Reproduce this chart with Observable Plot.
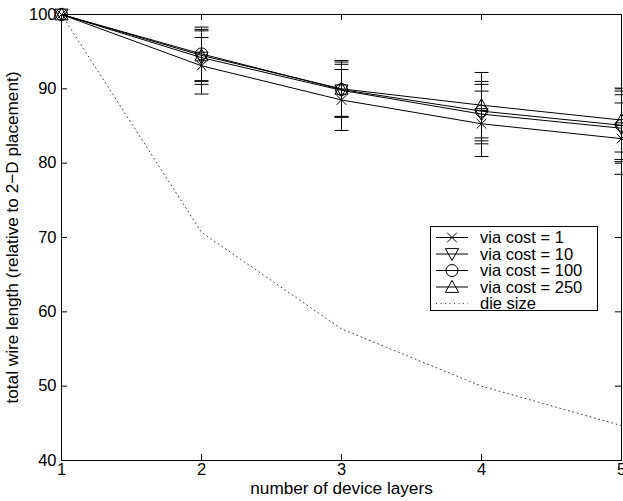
<!DOCTYPE html>
<html>
<head>
<meta charset="utf-8">
<script src="https://cdn.jsdelivr.net/npm/d3@7"></script>
<script src="https://cdn.jsdelivr.net/npm/@observablehq/plot@0.6"></script>
<style>
  body { margin: 0; background: #fff; }
  #chart { position: relative; width: 623px; height: 501px; font-family: "Liberation Sans", Arial, Helvetica, sans-serif; }
  #legend { position: absolute; left: 430px; top: 226px; width: 168px; height: 85px; border: 1px solid #000; background: #fff; box-sizing: border-box; }
  #legend svg { display: block; overflow: visible; }
</style>
</head>
<body>
<div id="chart"></div>
<script>
// Number of device layers on the x axis
const layers = [1, 2, 3, 4, 5];
const seriesNames = ["via cost = 1", "via cost = 10", "via cost = 100", "via cost = 250"];

// Mean total wire length per via cost (percent of 2-D placement)
const wireCost1   = [100, 93.1, 88.5, 85.3, 83.3];
const wireCost10  = [100, 94.2, 89.8, 86.6, 84.7];
const wireCost100 = [100, 94.7, 89.9, 87.0, 85.1];
const wireCost250 = [100, 94.5, 90.0, 87.8, 85.8];

// Half-width of the error bar at each layer count
const errCost1   = [0, 3.8, 4.1, 4.4, 4.8];
const errCost10  = [0, 3.6, 3.5, 4.0, 4.5];
const errCost100 = [0, 3.6, 3.7, 4.0, 4.6];
const errCost250 = [0, 3.5, 3.8, 4.4, 4.3];

// Die size relative to 2-D
const dieSize = [100, 70.7, 57.7, 50.0, 44.7];

const xTicks = [1, 2, 3, 4, 5];
const yTicks = [40, 50, 60, 70, 80, 90, 100];

const FONT = "Liberation Sans, Arial, Helvetica, sans-serif";
const FS = 16.5;
const FS_TITLE = 17.2;

// Marker shapes
const rad = (size) => Math.sqrt(size / Math.PI);
const symCross = { draw(c, size) { const r = rad(size) * 0.8; c.moveTo(-r, -r); c.lineTo(r, r); c.moveTo(-r, r); c.lineTo(r, -r); } };
const symCircle = { draw(c, size) { const r = rad(size); c.moveTo(r, 0); c.arc(0, 0, r, 0, 2 * Math.PI); } };
const symTriUp = { draw(c, size) { const r = rad(size); c.moveTo(0, -r * 1.1); c.lineTo(r * 1.1, r * 0.9); c.lineTo(-r * 1.1, r * 0.9); c.closePath(); } };
const symTriDown = { draw(c, size) { const r = rad(size); c.moveTo(0, r * 1.1); c.lineTo(r * 1.1, -r * 0.9); c.lineTo(-r * 1.1, -r * 0.9); c.closePath(); } };
const symCap = { draw(c, size) { const r = rad(size); c.moveTo(-r, 0); c.lineTo(r, 0); } };

const seriesValues = [wireCost1, wireCost10, wireCost100, wireCost250];
const seriesErrors = [errCost1, errCost10, errCost100, errCost250];
const seriesSymbols = [symCross, symTriDown, symCircle, symTriUp];

const rows = seriesNames.flatMap((name, s) =>
  layers.map((layer, i) => ({
    series: name,
    layer,
    value: seriesValues[s][i],
    lo: seriesValues[s][i] - seriesErrors[s][i],
    hi: seriesValues[s][i] + seriesErrors[s][i],
    err: seriesErrors[s][i]
  }))
);
const errRows = rows.filter(d => d.err > 0);
const dieRows = layers.map((layer, i) => ({ layer, value: dieSize[i] }));

const W = 623, H = 501;
const mL = 61, mR = 2, mT = 14, mB = 41;
const frameW = W - mL - mR, frameH = H - mT - mB;
const tickLen = 6;

const marks = [
  Plot.frame({ stroke: "#000", strokeWidth: 1 }),
  // inward ticks on all four sides
  Plot.tickX(xTicks, { x: d => d, insetTop: frameH - tickLen, stroke: "#000" }),
  Plot.tickX(xTicks, { x: d => d, insetBottom: frameH - tickLen, stroke: "#000" }),
  Plot.tickY(yTicks, { y: d => d, insetRight: frameW - tickLen, stroke: "#000" }),
  Plot.tickY(yTicks, { y: d => d, insetLeft: frameW - tickLen, stroke: "#000" }),
  Plot.axisX(xTicks, { tickSize: 0, tickPadding: 3, label: null, fontSize: FS, tickFormat: d => String(d) }),
  Plot.axisY(yTicks, { tickSize: 0, tickPadding: 5, label: null, fontSize: FS, tickFormat: d => String(d) }),
  Plot.text(["number of device layers"], { frameAnchor: "bottom", dy: 33, fontSize: FS_TITLE, textAnchor: "middle" }),
  Plot.text(["total wire length (relative to 2\u2212D placement)"], { frameAnchor: "left", dx: -49, rotate: -90, fontSize: FS_TITLE, textAnchor: "middle" }),
  // die size
  Plot.line(dieRows, { x: "layer", y: "value", stroke: "#444", strokeWidth: 1, strokeDasharray: "1 3.5" }),
  // error bars
  Plot.ruleX(errRows, { x: "layer", y1: "lo", y2: "hi", stroke: "#000", strokeWidth: 1 }),
  Plot.dot(errRows, { x: "layer", y: "lo", symbol: symCap, r: 7, stroke: "#000", strokeWidth: 1 }),
  Plot.dot(errRows, { x: "layer", y: "hi", symbol: symCap, r: 7, stroke: "#000", strokeWidth: 1 }),
  // series lines
  Plot.line(rows, { x: "layer", y: "value", z: "series", stroke: "#000", strokeWidth: 1 })
];
seriesNames.forEach((name, s) => {
  marks.push(Plot.dot(rows.filter(d => d.series === name), {
    x: "layer", y: "value", symbol: seriesSymbols[s], r: 6, stroke: "#000", fill: "none", strokeWidth: 1
  }));
});

const chart = Plot.plot({
  width: W,
  height: H,
  marginLeft: mL,
  marginRight: mR,
  marginTop: mT,
  marginBottom: mB,
  style: { fontFamily: FONT, fontSize: FS + "px", color: "#000", background: "#fff", overflow: "visible" },
  x: { domain: [1, 5] },
  y: { domain: [40, 100] },
  marks
});

const root = document.getElementById("chart");
root.appendChild(chart);

// Legend box
const legendNames = [...seriesNames, "die size"];
const legend = d3.select(root).append("div").attr("id", "legend");
const lsvg = legend.append("svg").attr("width", 166).attr("height", 83);
legendNames.forEach((name, i) => {
  const y = 10.5 + i * 16.5;
  const g = lsvg.append("g").attr("transform", `translate(0,${y})`);
  const line = g.append("line").attr("x1", 5).attr("x2", 37).attr("y1", 0).attr("y2", 0).attr("stroke", i < 4 ? "#000" : "#444");
  if (i === 4) line.attr("stroke-dasharray", "1 3.5");
  if (i < 4) {
    const p = d3.path();
    seriesSymbols[i].draw(p, Math.PI * 36);
    g.append("path").attr("d", p.toString()).attr("transform", "translate(21,0)").attr("fill", "none").attr("stroke", "#000");
  }
  g.append("text").attr("x", 49).attr("y", 0).attr("dy", "0.35em")
    .attr("font-family", FONT).attr("font-size", FS).text(name);
});
</script>
</body>
</html>
